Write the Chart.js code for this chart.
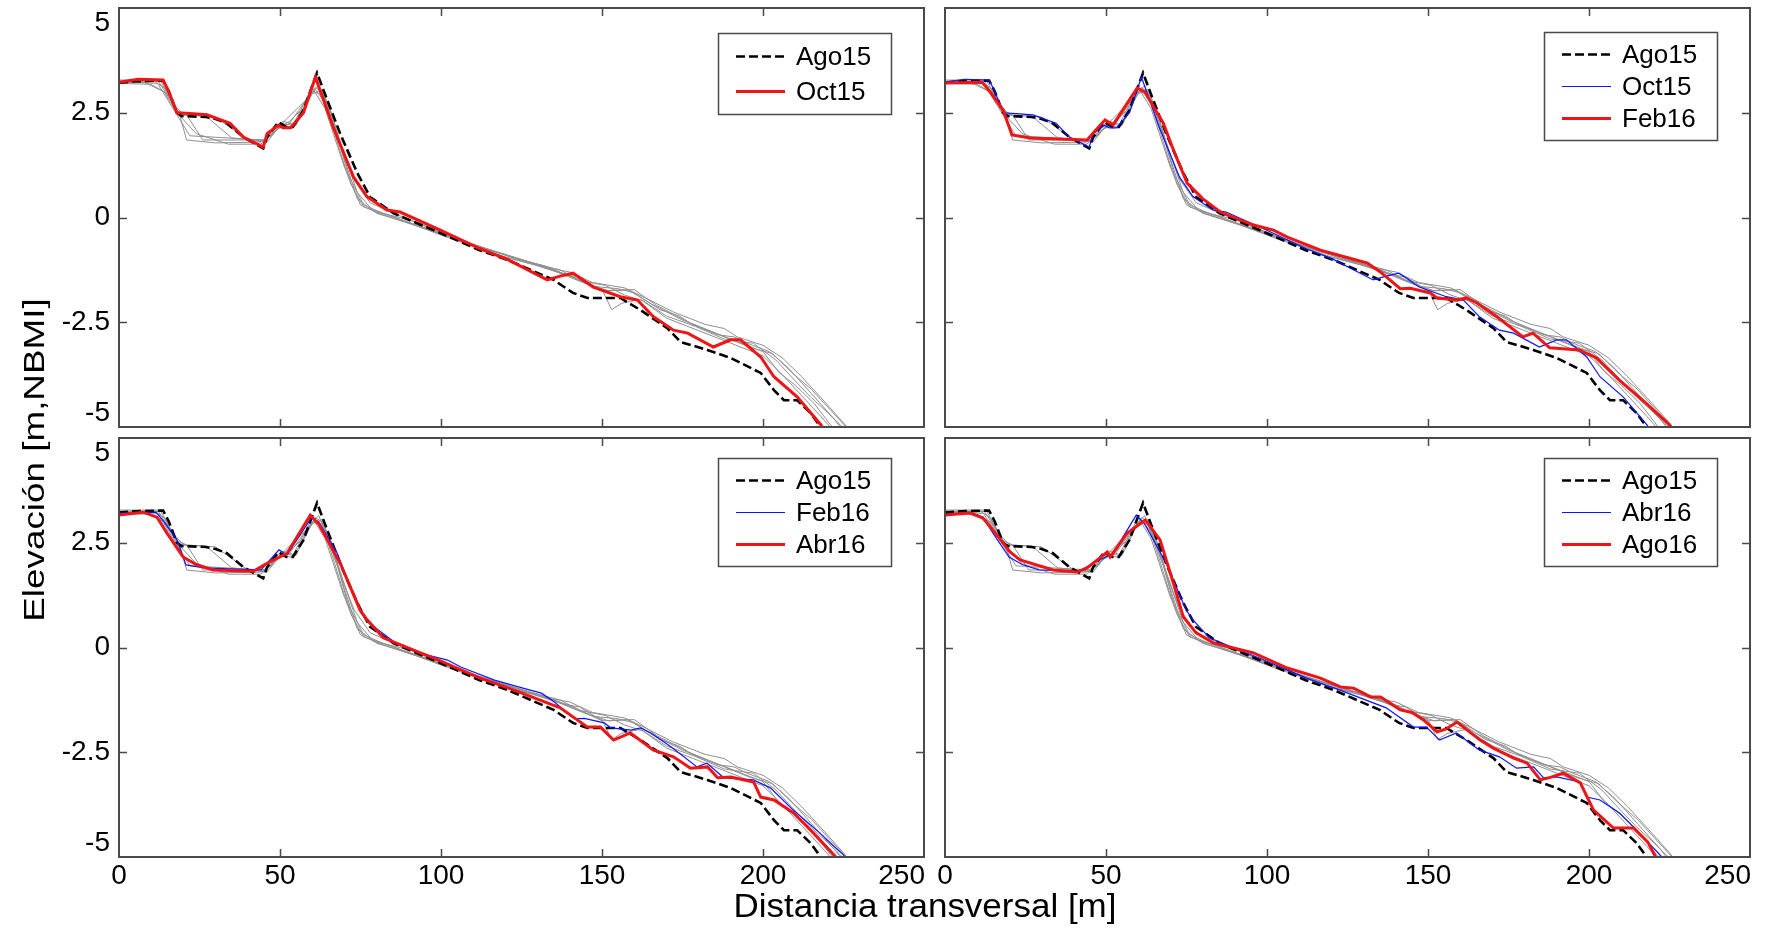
<!DOCTYPE html>
<html>
<head>
<meta charset="utf-8">
<title>Perfiles de playa</title>
<script src="https://cdn.jsdelivr.net/npm/chart.js@4.4.1/dist/chart.umd.min.js"></script>
<style>
  body { margin: 0; background: #fff; width: 1767px; height: 928px; overflow: hidden; position: relative;
         font-family: 'Liberation Sans', Arial, sans-serif; color: #000; }
  canvas { position: absolute; }
  #xtitle { position: absolute; left: 675px; top: 889px; width: 500px; text-align: center;
            font-size: 33px; line-height: 33px; white-space: nowrap; transform: scaleX(1.06); }
  #ytitle { position: absolute; left: -166px; top: 440px; width: 400px; height: 40px; line-height: 40px;
            text-align: center; font-size: 29px; white-space: nowrap;
            transform: rotate(-90deg) scaleX(1.27); }
</style>
</head>
<body>
<canvas id="p1" width="932" height="434" style="left:0;top:0"></canvas>
<canvas id="p2" width="830" height="434" style="left:937px;top:0"></canvas>
<canvas id="p3" width="932" height="462" style="left:0;top:430px"></canvas>
<canvas id="p4" width="830" height="462" style="left:937px;top:430px"></canvas>
<div id="xtitle">Distancia transversal [m]</div>
<div id="ytitle">Elevación [m,NBMI]</div>
<script>
// Perfiles transversales: Ago15 de referencia, levantamientos resaltados, resto en gris

// axis ticks
const xTicks = [0, 50, 100, 150, 200, 250];
const xTickLabels = ['0', '50', '100', '150', '200', '250'];
const yTicks = [5, 2.5, 0, -2.5, -5];
const yTickLabels = ['5', '2.5', '0', '-2.5', '-5'];

// highlighted surveys (distance m, elevation m)
const ago15X = [0, 5, 13.7, 15.5, 18, 19.5, 27, 30, 33.5, 38.6, 44.8, 46, 49.5, 52, 54, 57.3, 61.5, 63.5, 68.7, 74, 78, 85.3, 99.8, 112, 120.6, 135, 141, 145.5, 155.7, 162, 170.3, 174.4, 182.7, 189.9, 199.3, 203.4, 206.5, 210.6, 214.8, 217.9, 220];
const ago15Y = [3.22, 3.25, 3.27, 3.0, 2.5, 2.42, 2.4, 2.35, 2.25, 1.92, 1.65, 1.92, 2.28, 2.16, 2.16, 2.57, 3.45, 3.04, 2.0, 1.06, 0.49, 0.1, -0.37, -0.78, -1.01, -1.49, -1.8, -1.92, -1.92, -2.21, -2.64, -2.97, -3.16, -3.35, -3.71, -4.12, -4.36, -4.36, -4.67, -5.0, -5.3];

const oct15X = [0, 6, 13.7, 15.5, 18, 22, 27.3, 34.5, 38.6, 44.8, 46, 49.5, 51, 53.3, 57.3, 61, 66.5, 72.8, 77, 83.2, 87.3, 99.8, 112, 120.6, 133, 137, 141, 147.3, 155.7, 161, 166, 172.2, 176.6, 184.6, 190, 193, 199.3, 203.4, 210.6, 218, 220];
const oct15Y = [3.23, 3.3, 3.28, 3.0, 2.5, 2.48, 2.45, 2.25, 1.92, 1.68, 2.0, 2.2, 2.14, 2.14, 2.5, 3.35, 2.16, 0.97, 0.5, 0.18, 0.13, -0.3, -0.74, -1.0, -1.49, -1.4, -1.33, -1.66, -1.89, -1.97, -2.37, -2.69, -2.76, -3.09, -2.92, -2.92, -3.33, -3.8, -4.28, -4.95, -5.2];

const feb16X = [0, 11.5, 14, 18, 20.8, 26.4, 44.1, 49.7, 52.2, 59.7, 62, 67.8, 71, 75.2, 80, 85.5, 95.8, 102, 106.3, 116.6, 126, 131.2, 135.2, 141.4, 144.5, 150.7, 152.8, 159, 162, 165.2, 171.4, 179.5, 182.6, 187.8, 197, 202.3, 209.4, 217.7, 222.7, 225, 227];
const feb16Y = [3.21, 3.23, 3.0, 2.57, 1.97, 1.9, 1.85, 2.33, 2.21, 3.09, 3.0, 2.25, 1.6, 0.82, 0.45, 0.13, -0.18, -0.3, -0.47, -0.78, -0.98, -1.09, -1.3, -1.7, -1.69, -1.8, -1.92, -1.97, -1.92, -2.04, -2.37, -2.85, -2.76, -3.11, -3.16, -3.35, -3.88, -4.43, -4.79, -4.95, -5.2];

const abr16X = [0, 7.5, 11.8, 14.9, 19.9, 24, 29.2, 41.7, 46, 52.2, 59.4, 62, 68.7, 74.9, 77, 82.1, 93.6, 97.6, 112.2, 122.5, 137, 145.5, 149.5, 153.6, 158.8, 166, 172.2, 177.5, 182.8, 185.9, 190, 197.1, 199.3, 203.4, 209.5, 215.7, 222.6, 225];
const abr16Y = [3.16, 3.23, 3.11, 2.73, 2.16, 1.98, 1.85, 1.82, 2.01, 2.25, 3.16, 2.95, 2.01, 0.89, 0.66, 0.23, -0.13, -0.25, -0.73, -1.01, -1.44, -1.9, -1.9, -2.21, -2.04, -2.45, -2.61, -2.88, -2.85, -3.11, -3.09, -3.21, -3.57, -3.64, -3.95, -4.43, -5.0, -5.25];

const ago16X = [0, 7.8, 11.8, 14.9, 20.2, 23.3, 33.6, 41, 44.1, 47.3, 50.4, 51.3, 56.6, 62.2, 66.8, 70.9, 74, 78, 83.3, 95.8, 106.3, 116.6, 122.8, 126.9, 132.2, 135.3, 141.4, 145, 148.6, 152.8, 155.5, 159, 166.2, 170.3, 176.6, 180.8, 184.9, 188, 192, 197.3, 201.4, 207.6, 213.9, 218.2, 220.7, 222];
const ago16Y = [3.16, 3.21, 3.09, 2.8, 2.28, 2.09, 1.85, 1.8, 1.9, 2.09, 2.28, 2.16, 2.73, 3.04, 2.57, 1.54, 0.73, 0.35, 0.11, -0.13, -0.49, -0.73, -0.94, -0.97, -1.18, -1.18, -1.49, -1.55, -1.73, -2.01, -1.95, -1.78, -2.21, -2.4, -2.64, -2.76, -3.16, -3.1, -3.0, -3.23, -3.88, -4.31, -4.31, -4.64, -5.0, -5.2];

// other surveys, drawn in gray in every panel
const gray1X = [0, 12, 18, 22, 45, 50, 54, 60, 64, 70, 76, 82, 100, 120, 130, 138, 143, 148, 155, 160, 168, 174, 178, 186, 191, 195, 202, 208, 215, 222, 226];
const gray1Y = [3.25, 3.2, 2.45, 1.95, 1.85, 2.25, 2.2, 3.1, 2.6, 1.2, 0.3, 0.1, -0.38, -0.95, -1.15, -1.35, -1.42, -1.65, -1.7, -1.8, -2.2, -2.35, -2.55, -2.8, -2.85, -3.0, -3.2, -3.6, -4.2, -4.8, -5.2];
const gray2X = [0, 10, 15, 19, 21, 30, 44, 48, 52, 58, 61, 64, 68, 72, 76, 84, 100, 118, 128, 136, 144, 150, 153, 156, 162, 170, 180, 190, 200, 206, 212, 218, 222];
const gray2Y = [3.2, 3.18, 2.95, 2.4, 1.85, 1.78, 1.8, 2.0, 2.35, 2.8, 3.05, 2.75, 1.9, 0.8, 0.25, 0.05, -0.42, -0.9, -1.1, -1.3, -1.55, -1.72, -2.2, -2.05, -1.95, -2.4, -2.7, -3.0, -3.3, -3.75, -4.25, -4.75, -5.1];
const gray3X = [0, 12, 16, 19, 27, 35, 45, 49, 53, 59, 62, 65, 69, 73, 78, 86, 100, 115, 125, 133, 140, 147, 157, 163, 172, 182, 188, 192, 200, 206, 212, 218, 225, 228];
const gray3Y = [3.28, 3.28, 2.8, 2.45, 2.42, 1.9, 1.82, 2.1, 2.25, 2.9, 3.15, 2.6, 1.7, 0.9, 0.35, 0.08, -0.35, -0.78, -1.0, -1.2, -1.3, -1.55, -1.68, -1.9, -2.25, -2.55, -2.65, -2.85, -3.05, -3.35, -3.8, -4.3, -4.9, -5.2];
const gray4X = [0, 8, 14, 18, 24, 34, 44, 48, 51, 55, 60, 63, 67, 71, 75, 80, 100, 120, 135, 142, 150, 158, 165, 175, 185, 195, 200, 205, 210, 216, 221, 224];
const gray4Y = [3.22, 3.22, 3.0, 2.5, 2.0, 1.75, 1.75, 2.0, 2.3, 2.2, 3.0, 2.95, 2.0, 1.0, 0.3, 0.12, -0.4, -0.88, -1.25, -1.45, -1.75, -1.72, -2.05, -2.45, -2.75, -3.05, -3.2, -3.7, -4.0, -4.45, -4.95, -5.2];
const gray5X = [0, 11, 14, 18, 21, 26, 45, 48, 53, 57, 61, 63, 66, 70, 74, 79, 90, 105, 122, 132, 140, 146, 152, 160, 167, 177, 188, 196, 203, 209, 215, 221, 227];
const gray5Y = [3.25, 3.25, 3.1, 2.55, 2.45, 1.85, 1.85, 2.05, 2.3, 2.6, 3.1, 3.0, 2.45, 1.5, 0.6, 0.15, -0.05, -0.52, -0.95, -1.15, -1.4, -1.6, -1.75, -1.72, -2.1, -2.5, -2.85, -3.1, -3.25, -3.7, -4.1, -4.6, -5.1];
const gray6X = [0, 13, 17, 20, 30, 40, 46, 50, 54, 60, 63, 66, 70, 74, 80, 95, 110, 125, 137, 143, 151, 157, 163, 170, 179, 188, 197, 204, 210, 215, 220, 226];
const gray6Y = [3.2, 3.25, 2.7, 2.45, 2.4, 1.85, 1.8, 2.2, 2.15, 2.95, 3.05, 2.5, 1.4, 0.45, 0.1, -0.25, -0.65, -1.02, -1.25, -1.5, -1.62, -1.85, -2.0, -2.35, -2.6, -2.9, -3.0, -3.4, -3.9, -4.3, -4.65, -5.1];

const grayX = [gray1X, gray2X, gray3X, gray4X, gray5X, gray6X];
const grayY = [gray1Y, gray2Y, gray3Y, gray4Y, gray5Y, gray6Y];

const RED = '#f01414';
const BLUE = '#0a14ff';
const GRAY = '#8f8f8f';
const FONT = "'Liberation Sans', Arial, sans-serif";

function pts(xs, ys) {
  return xs.map((x, i) => ({ x: x, y: ys[i] }));
}

function grayDatasets() {
  return grayX.map((xs, i) => ({
    data: pts(xs, grayY[i]), borderColor: GRAY, borderWidth: 1, order: 3
  }));
}

function ago15Dataset() {
  return { label: 'Ago15', data: pts(ago15X, ago15Y), borderColor: '#000', borderWidth: 2.6,
           borderDash: [9, 4], order: 2 };
}

function thinDataset(label, xs, ys) {
  return { label: label, data: pts(xs, ys), borderColor: BLUE, borderWidth: 1.2, order: 1 };
}

function thickDataset(label, xs, ys) {
  return { label: label, data: pts(xs, ys), borderColor: RED, borderWidth: 3, order: 0 };
}

// MATLAB-like box: frame, inward ticks on all sides, tick labels and framed legend
const matlabAxes = {
  id: 'matlabAxes',
  afterDatasetsDraw(chart, args, opts) {
    const ctx = chart.ctx;
    const a = chart.chartArea;
    const xs = chart.scales.x;
    const ys = chart.scales.y;
    ctx.save();

    // frame
    ctx.strokeStyle = '#4a4a4a';
    ctx.lineWidth = 2;
    ctx.strokeRect(a.left, a.top, a.right - a.left, a.bottom - a.top);

    // inward ticks
    ctx.lineWidth = 1.5;
    ctx.beginPath();
    xTicks.slice(1, -1).forEach(v => {
      const px = Math.round(xs.getPixelForValue(v)) + 0.5;
      ctx.moveTo(px, a.top); ctx.lineTo(px, a.top + 8);
      ctx.moveTo(px, a.bottom); ctx.lineTo(px, a.bottom - 8);
    });
    yTicks.slice(1, -1).forEach(v => {
      const py = Math.round(ys.getPixelForValue(v)) + 0.5;
      ctx.moveTo(a.left, py); ctx.lineTo(a.left + 8, py);
      ctx.moveTo(a.right, py); ctx.lineTo(a.right - 8, py);
    });
    ctx.stroke();

    ctx.fillStyle = '#000';
    ctx.font = '28px ' + FONT;
    if (opts.yLabels) {
      ctx.textAlign = 'right';
      yTicks.forEach((v, i) => {
        const py = ys.getPixelForValue(v);
        ctx.textBaseline = i === 0 ? 'top' : (i === yTicks.length - 1 ? 'bottom' : 'middle');
        ctx.fillText(yTickLabels[i], a.left - 9, py + (i === 0 ? 1 : 0));
      });
    }
    if (opts.xLabels) {
      ctx.textBaseline = 'top';
      xTicks.forEach((v, i) => {
        ctx.textAlign = i === xTicks.length - 1 ? 'right' : 'center';
        ctx.fillText(xTickLabels[i], xs.getPixelForValue(v) + (i === xTicks.length - 1 ? 1 : 0), a.bottom + 5);
      });
    }

    // legend
    const entries = chart.data.datasets.filter(d => d.label);
    const w = 173;
    const h = entries.length === 2 ? 81 : 108;
    const bx = a.right - 33 - w;
    const by = a.top + opts.legendTop;
    ctx.fillStyle = '#fff';
    ctx.fillRect(bx, by, w, h);
    ctx.strokeStyle = '#4a4a4a';
    ctx.lineWidth = 1.5;
    ctx.strokeRect(bx + 0.5, by + 0.5, w, h);
    const rowH = (h - 12) / entries.length;
    ctx.textAlign = 'left';
    ctx.textBaseline = 'middle';
    ctx.font = '26px ' + FONT;
    entries.forEach((d, i) => {
      const cy = Math.round(by + 6 + rowH * (i + 0.5)) + 0.5;
      ctx.strokeStyle = d.borderColor;
      ctx.lineWidth = d.borderWidth;
      ctx.setLineDash(d.borderDash || []);
      ctx.beginPath();
      ctx.moveTo(bx + 18, cy);
      ctx.lineTo(bx + 67, cy);
      ctx.stroke();
      ctx.setLineDash([]);
      ctx.fillStyle = '#000';
      ctx.fillText(d.label, bx + 78, cy + 1);
    });
    ctx.restore();
  }
};

function makePanel(id, highlight, padding, opts) {
  new Chart(document.getElementById(id), {
    type: 'line',
    data: { datasets: [ago15Dataset()].concat(highlight, grayDatasets()) },
    options: {
      responsive: false,
      animation: false,
      events: [],
      layout: { padding: padding },
      elements: { point: { radius: 0 }, line: { tension: 0, fill: false } },
      datasets: { line: { clip: 0 } },
      scales: {
        x: { type: 'linear', display: false, min: 0, max: 250 },
        y: { type: 'linear', display: false, min: -5, max: 5 }
      },
      plugins: {
        legend: { display: false },
        tooltip: { enabled: false },
        matlabAxes: opts
      }
    },
    plugins: [matlabAxes]
  });
}

const padLeftTop = { left: 119, top: 8, right: 8, bottom: 7 };
const padRightTop = { left: 8, top: 8, right: 17, bottom: 7 };
const padLeftBottom = { left: 119, top: 8, right: 8, bottom: 35 };
const padRightBottom = { left: 8, top: 8, right: 17, bottom: 35 };

makePanel('p1', [thickDataset('Oct15', oct15X, oct15Y)], padLeftTop,
  { yLabels: true, xLabels: false, legendTop: 25 });
makePanel('p2', [thinDataset('Oct15', oct15X, oct15Y), thickDataset('Feb16', feb16X, feb16Y)], padRightTop,
  { yLabels: false, xLabels: false, legendTop: 24 });
makePanel('p3', [thinDataset('Feb16', feb16X, feb16Y), thickDataset('Abr16', abr16X, abr16Y)], padLeftBottom,
  { yLabels: true, xLabels: true, legendTop: 20 });
makePanel('p4', [thinDataset('Abr16', abr16X, abr16Y), thickDataset('Ago16', ago16X, ago16Y)], padRightBottom,
  { yLabels: false, xLabels: true, legendTop: 20 });
</script>
</body>
</html>
